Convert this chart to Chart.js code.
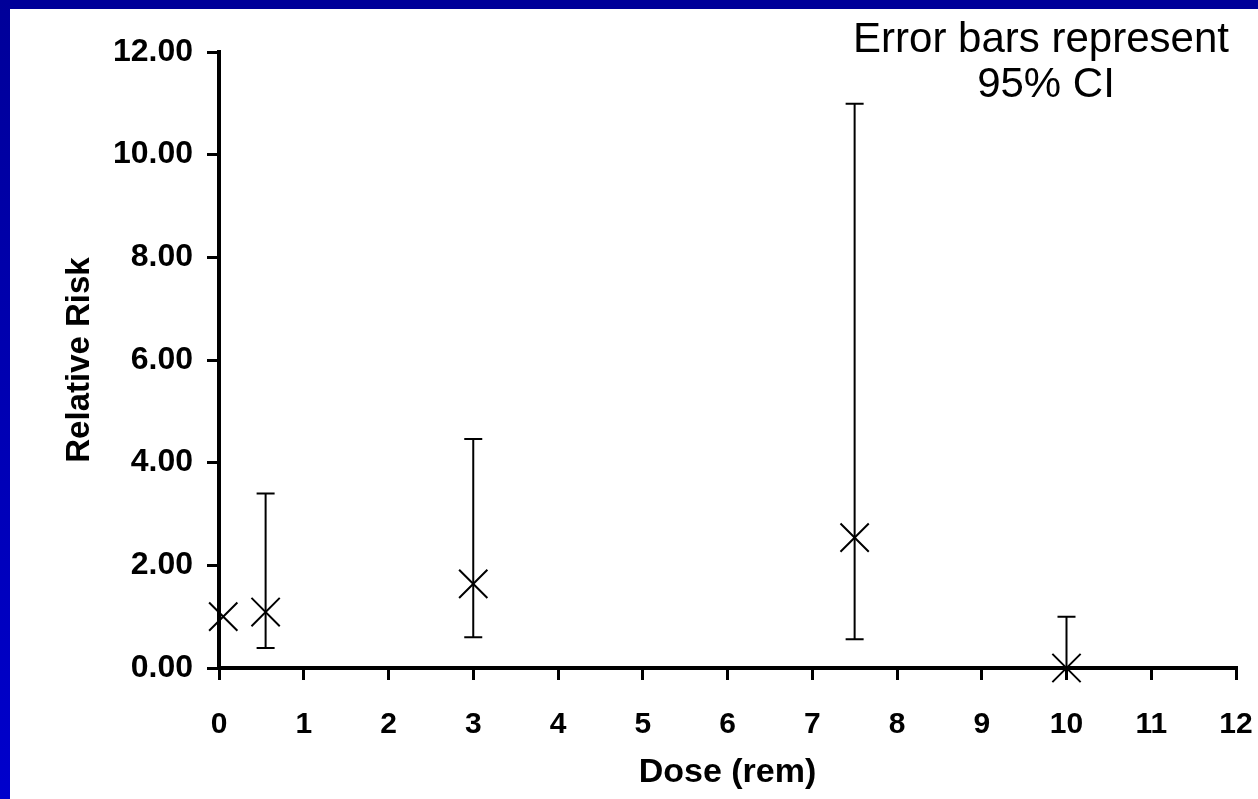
<!DOCTYPE html>
<html>
<head>
<meta charset="utf-8">
<script src="https://cdn.jsdelivr.net/npm/chart.js@4.4.1/dist/chart.umd.min.js"></script>
<style>
html,body{margin:0;padding:0;background:#fff}
#wrap{position:relative;width:1258px;height:799px;overflow:hidden}
#topbar{position:absolute;left:0;top:0;width:1258px;height:9px;background:#000099}
#leftbar{position:absolute;left:0;top:0;width:10px;height:799px;background:linear-gradient(#000099,#0000cc)}
canvas{position:absolute;left:0;top:0}
</style>
</head>
<body>
<div id="wrap">
<div id="topbar"></div>
<div id="leftbar"></div>
<canvas id="riskChart" width="1258" height="799"></canvas>
</div>
<script>

const doses = [0.05, 0.55, 3, 7.5, 10]
const relRisk = [1.0, 1.09, 1.64, 2.54, 0.0]
const ciLower = [null, 0.39, 0.60, 0.56, 0.0]
const ciUpper = [null, 3.40, 4.46, 10.99, 1.0]

const xTickLabels = ["0","1","2","3","4","5","6","7","8","9","10","11","12"]
const yTickLabels = ["0.00","2.00","4.00","6.00","8.00","10.00","12.00"]

const noteLines = ["Error bars represent", "95% CI"]

const fontFamily = "'Liberation Sans', Arial, sans-serif"

const errorBars = {
id:"errorBars",
afterDatasetsDraw(chart){
const ctx = chart.ctx
const xs = chart.scales.x
const ys = chart.scales.y
ctx.save()
ctx.strokeStyle = "#000"
ctx.lineWidth = 2
for(let i=0;i<doses.length;i++){
if(ciLower[i]===null || ciUpper[i]===null) continue
let px = xs.getPixelForValue(doses[i])
let top = ys.getPixelForValue(ciUpper[i])
let bot = ys.getPixelForValue(ciLower[i])
ctx.beginPath()
ctx.moveTo(px, top)
ctx.lineTo(px, bot)
ctx.moveTo(px-9, top)
ctx.lineTo(px+9, top)
ctx.moveTo(px-9, bot)
ctx.lineTo(px+9, bot)
ctx.stroke()
}
ctx.restore()
}
}

const note = {
id:"note",
afterDraw(chart){
const ctx = chart.ctx
ctx.save()
ctx.fillStyle = "#000"
ctx.font = "42px " + fontFamily
ctx.textAlign = "center"
ctx.textBaseline = "alphabetic"
ctx.fillText(noteLines[0], 1041, 52)
ctx.fillText(noteLines[1], 1046, 97)
ctx.restore()
}
}

const ctx = document.getElementById("riskChart")

const riskChart = new Chart(ctx, {

type:"scatter",

data:{
datasets:[{
label:"Relative Risk",
data:doses.map((d,i)=>({x:d, y:relRisk[i]})),
pointStyle:"crossRot",
pointRadius:20,
pointBorderWidth:2,
borderColor:"#000",
backgroundColor:"#000",
clip:false
}]
},

options:{
responsive:false,
animation:false,
events:[],
layout:{
padding:{left:0, top:52, right:20, bottom:0}
},
plugins:{
legend:{display:false},
tooltip:{enabled:false}
},
scales:{
x:{
type:"linear",
min:0,
max:12,
afterFit(scale){
scale.height = 131
scale.paddingLeft = 0
scale.paddingRight = 0
},
ticks:{
stepSize:1,
color:"#000",
padding:27,
font:{family:fontFamily, size:30, weight:"bold"},
callback:(v,i)=>xTickLabels[i]
},
grid:{
drawOnChartArea:false,
drawTicks:true,
tickLength:12,
color:"#000",
lineWidth:3
},
border:{color:"#000", width:4},
title:{
display:true,
text:"Dose (rem)",
color:"#000",
font:{family:fontFamily, size:34, weight:"bold"},
padding:{top:0, bottom:6}
}
},
y:{
type:"linear",
min:0,
max:12,
afterFit(scale){
scale.width = 219
scale.paddingTop = 0
scale.paddingBottom = 0
},
ticks:{
stepSize:2,
color:"#000",
padding:14,
font:{family:fontFamily, size:32, weight:"bold"},
callback:(v,i)=>yTickLabels[i]
},
grid:{
drawOnChartArea:false,
drawTicks:true,
tickLength:12,
color:"#000",
lineWidth:3
},
border:{color:"#000", width:4},
title:{
display:true,
text:"Relative Risk",
color:"#000",
font:{family:fontFamily, size:33, weight:"bold"},
padding:{top:60, bottom:0}
}
}
}
},

plugins:[errorBars, note]

})

</script>
</body>
</html>
